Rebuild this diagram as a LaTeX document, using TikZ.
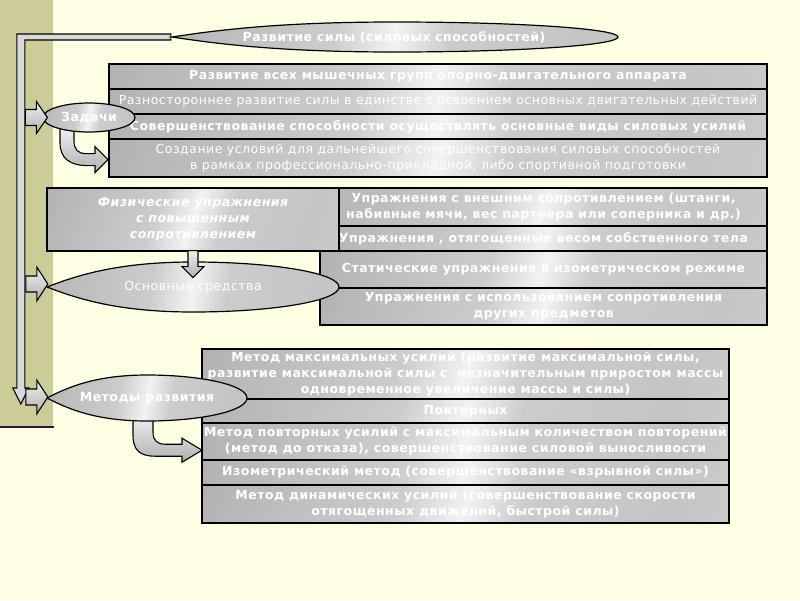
\documentclass[tikz,border=0pt]{standalone}
\usepackage{fontspec}
\setmainfont{DejaVu Sans}[LetterSpace=4]
\usetikzlibrary{calc,shapes.geometric}
\definecolor{bgyellow}{HTML}{FFFFE3}
\definecolor{bandolive}{HTML}{CCCC99}
\definecolor{banddark}{HTML}{2A1230}
\pgfdeclarehorizontalshading{steel}{100bp}{rgb(0bp)=(0.58,0.58,0.58); rgb(22bp)=(0.72,0.72,0.72); rgb(42bp)=(0.80,0.80,0.80); rgb(50bp)=(0.95,0.95,0.95); rgb(57bp)=(0.80,0.80,0.80); rgb(75bp)=(0.77,0.77,0.77); rgb(100bp)=(0.85,0.85,0.85)}
\pgfdeclarelayer{bg}
\pgfdeclarelayer{back}
\pgfsetlayers{bg,back,main}
\newcommand\mytear[4]{%
  \path[ellfill] (#1-#3,#2) .. controls (#1-0.78*#3,#2-0.5*#4) and (#1-0.5*#3,#2-#4) .. (#1,#2-#4)
   .. controls (#1+0.552*#3,#2-#4) and (#1+#3,#2-0.552*#4) .. (#1+#3,#2)
   .. controls (#1+#3,#2+0.552*#4) and (#1+0.552*#3,#2+#4) .. (#1,#2+#4)
   .. controls (#1-0.5*#3,#2+#4) and (#1-0.78*#3,#2+0.5*#4) .. (#1-#3,#2) -- cycle;}
\tikzset{
 rowbox/.style={draw=black, line width=1.2pt, shading=steel, shading angle=-20, rectangle, inner sep=0pt, align=center, text=white},
 taskbox/.style={rowbox, minimum width=658pt, minimum height=#1pt},
 meanbox/.style={rowbox, minimum width=447pt, minimum height=#1pt},
 methbox/.style={rowbox, minimum width=527pt, minimum height=#1pt},
 bt/.style={font=\fontsize{12.5}{16}\selectfont\bfseries},
 nt/.style={font=\fontsize{12.5}{16}\selectfont},
 ellfill/.style={draw=black, line width=1.2pt, shading=steel, shading angle=-10},
 elltext/.style={ellipse, inner sep=0pt, text=white, align=center},
 barrow/.style={draw=black, line width=1.1pt, top color=gray!12, bottom color=gray!62},
 pipe/.style={draw=black, line width=1.1pt, fill=gray!30},
}
\begin{document}
\begin{tikzpicture}[x=1pt, y=-1pt]
\useasboundingbox (0,0) rectangle (800,600);
% top ellipse
\mytear{395}{37}{223}{15}
\node[elltext, minimum width=446pt, minimum height=30pt, bt] (top) at (394,37) {Развитие силы (силовых способностей)};
% tasks
\node[taskbox=25, bt] (t1) at (438,76.5) {Развитие всех мышечных групп опорно-двигательного аппарата};
\node[taskbox=25, nt] (t2) at (438,101.5) {Разностороннее развитие силы в единстве с освоением основных двигательных действий};
\node[taskbox=25, bt] (t3) at (438,126.5) {Совершенствование способности осуществлять основные виды силовых усилий};
\node[taskbox=38, nt] (t4) at (438,158) {Создание условий для дальнейшего совершенствования силовых способностей\\в рамках профессионально-прикладной, либо спортивной подготовки};
\node[elltext, draw=black, line width=1.2pt, shading=steel, shading angle=-10, minimum width=92pt, minimum height=29pt, bt] (zad) at (89,117.5) {Задачи};
\path[barrow] ($(zad.west)+(5,0)$) -- ++(-11,-16) -- ++(0,8) -- ++(-11,0) -- ++(0,16) -- ++(11,0) -- ++(0,8) -- cycle;
% means
\node[meanbox=38, bt] (mA) at (543.5,207) {Упражнения с внешним сопротивлением (штанги,\\набивные мячи, вес партнера или соперника и др.)};
\node[meanbox=25, bt] (mB) at (543.5,238.5) {Упражнения , отягощенные весом собственного тела};
\node[meanbox=37, bt] (mC) at (543.5,269.5) {Статические упражнения в изометрическом режиме};
\node[meanbox=37, bt] (mD) at (543.5,306.5) {Упражнения с использованием сопротивления\\других предметов};
\node[rowbox, minimum width=292pt, minimum height=63pt, font=\fontsize{12.5}{16}\selectfont\bfseries\itshape] (phys) at (193,219.5) {Физические упражнения\\с повышенным\\сопротивлением};
\mytear{193}{287}{146}{25}
\node[elltext, minimum width=292pt, minimum height=50pt, nt] (osn) at (193,287) {Основные средства};
\begin{scope}[shift={(phys.south)}]
\path[barrow] (-5,-1) -- (-5,15) -- (-11,15) -- (0,26) -- (11,15) -- (5,15) -- (5,-1) -- cycle;
\end{scope}
\path[barrow] ($(osn.west)+(1,-3)$) -- ++(-11,-17) -- ++(0,9) -- ++(-11,0) -- ++(0,16) -- ++(11,0) -- ++(0,9) -- cycle;
% methods
\node[methbox=50, bt] (r1) at (465.5,374) {Метод максимальных усилий (развитие максимальной силы,\\развитие максимальной силы с \ незначительным приростом массы\\одновременное увеличение массы и силы)};
\node[methbox=24, bt] (r2) at (465.5,411) {Повторных};
\node[methbox=37, bt] (r3) at (465.5,441.5) {Метод повторных усилий с максимальным количеством повторений\\(метод до отказа), совершенствование силовой выносливости};
\node[methbox=25, bt] (r4) at (465.5,472.5) {Изометрический метод (совершенствование «взрывной силы»)};
\node[methbox=38, bt] (r5) at (465.5,504) {Метод динамических усилий (совершенствование скорости\\отягощенных движений, быстрой силы)};
\mytear{147}{398}{100}{23}
\node[elltext, minimum width=200pt, minimum height=46pt, bt] (met) at (147,398) {Методы развития};
\path[barrow] ($(met.west)+(1,-1)$) -- ++(-11,-17) -- ++(0,9) -- ++(-11,0) -- ++(0,16) -- ++(11,0) -- ++(0,9) -- cycle;
% back layer: pipe and curved arrows
\begin{pgfonlayer}{back}
\begin{scope}[shift={(top.west)}]
\path[pipe] (0,-3) -- (-154,-3) -- (-154,351) -- (-158,351) -- (-150,367) -- (-142,351) -- (-146,351) -- (-146,3) -- (0,3) -- cycle;
\end{scope}
\begin{scope}[shift={($(zad.south)+(-29,-5)$)}]
\path[barrow] (0,0) -- (0,15) .. controls (0,31) and (10,38) .. (28,38) -- (35,38) -- (35,45) -- (48,32) -- (35,19) -- (35,26) -- (26,26) .. controls (18,26) and (14,22) .. (14,13) -- (14,0) -- cycle;
\end{scope}
\begin{scope}[shift={($(met.south)+(-14,-6)$)}]
\path[barrow] (0,0) -- (0,20) .. controls (0,35) and (7,41) .. (22,41) -- (49,41) -- (49,47) -- (69,35) -- (49,23) -- (49,29) -- (32,29) .. controls (24,29) and (20,25) .. (20,17) -- (20,0) -- cycle;
\end{scope}
\end{pgfonlayer}
\begin{pgfonlayer}{bg}
\fill[bgyellow] (0,0) rectangle (800,600);
\fill[bandolive] (0,0) rectangle (53,427);
\draw[banddark, line width=2.5pt] (0,427) -- (54,427);
\end{pgfonlayer}
\end{tikzpicture}
\end{document}
